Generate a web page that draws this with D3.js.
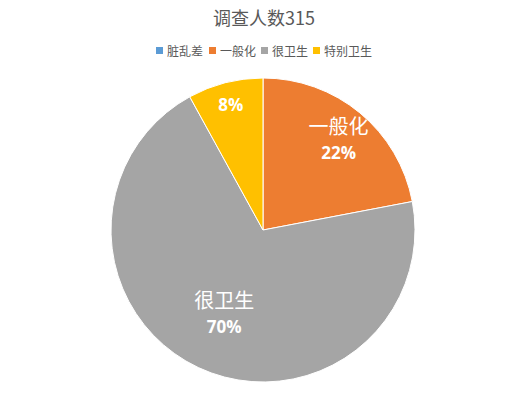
<!DOCTYPE html>
<html><head><meta charset="utf-8">
<script src="https://cdn.jsdelivr.net/npm/d3@7/dist/d3.min.js"></script>
<style>body{margin:0;background:#fff}svg{display:block}</style>
</head><body>
<script>
const title = "调查人数315";
const categories = ["脏乱差", "一般化", "很卫生", "特别卫生"];
const values = [0, 22, 70, 8];
const colors = ["#5B9BD5", "#ED7D31", "#A5A5A5", "#FFC000"];

const W = 529, H = 395;
const cx = 263, cy = 230, R = 152;
const svg = d3.select("body").append("svg").attr("width", W).attr("height", H);
const cjk = "'Noto Sans CJK SC','Noto Sans',sans-serif";

svg.append("text").attr("x", 264).attr("y", 25).attr("text-anchor", "middle")
  .attr("font-family", cjk).attr("font-size", 18).attr("fill", "#595959").text(title);

// legend
const legendX = [156, 209, 261, 313];
const color = d3.scaleOrdinal().domain(categories).range(colors);
const lg = svg.append("g");
categories.forEach((c, i) => {
  lg.append("rect").attr("x", legendX[i]).attr("y", 47).attr("width", 7).attr("height", 7).attr("fill", color(c));
  lg.append("text").attr("x", legendX[i] + 11).attr("y", 55.5).attr("font-family", cjk)
    .attr("font-size", 12).attr("fill", "#595959").text(c);
});

const data = categories.map((c, i) => ({ cat: c, v: values[i] }));
const pie = d3.pie().value(d => d.v).sort(null);
const arcs = pie(data);
const arc = d3.arc().innerRadius(0).outerRadius(R);
const g = svg.append("g").attr("transform", `translate(${cx},${cy})`);
g.selectAll("path").data(arcs).join("path").attr("d", arc)
  .attr("fill", d => color(d.data.cat)).attr("stroke", "#fff").attr("stroke-width", 1);

const total = d3.sum(values);
const fmt = d3.format(".0%");
const labelFactor = { "一般化": 0.78, "很卫生": 0.6, "特别卫生": 0.85 };
const pctFont = "'Open Sans','Liberation Sans',sans-serif";
arcs.filter(d => d.data.v > 0).forEach(d => {
  const f = labelFactor[d.data.cat] || 0.7;
  const la = d3.arc().innerRadius(R * f).outerRadius(R * f);
  const [x, y] = la.centroid(d);
  const pct = fmt(d.data.v / total);
  if (d.data.cat === "特别卫生") {
    g.append("text").attr("x", x).attr("y", y + 6).attr("text-anchor", "middle")
      .attr("font-family", pctFont).attr("font-weight", "bold").attr("font-size", 17).attr("fill", "#fff").text(pct);
  } else {
    g.append("text").attr("x", x).attr("y", y - 5).attr("text-anchor", "middle")
      .attr("font-family", cjk).attr("font-size", 20).attr("fill", "#fff").text(d.data.cat);
    g.append("text").attr("x", x).attr("y", y + 20.5).attr("text-anchor", "middle")
      .attr("font-family", pctFont).attr("font-weight", "bold").attr("font-size", 17).attr("fill", "#fff").text(pct);
  }
});
</script>
</body></html>
